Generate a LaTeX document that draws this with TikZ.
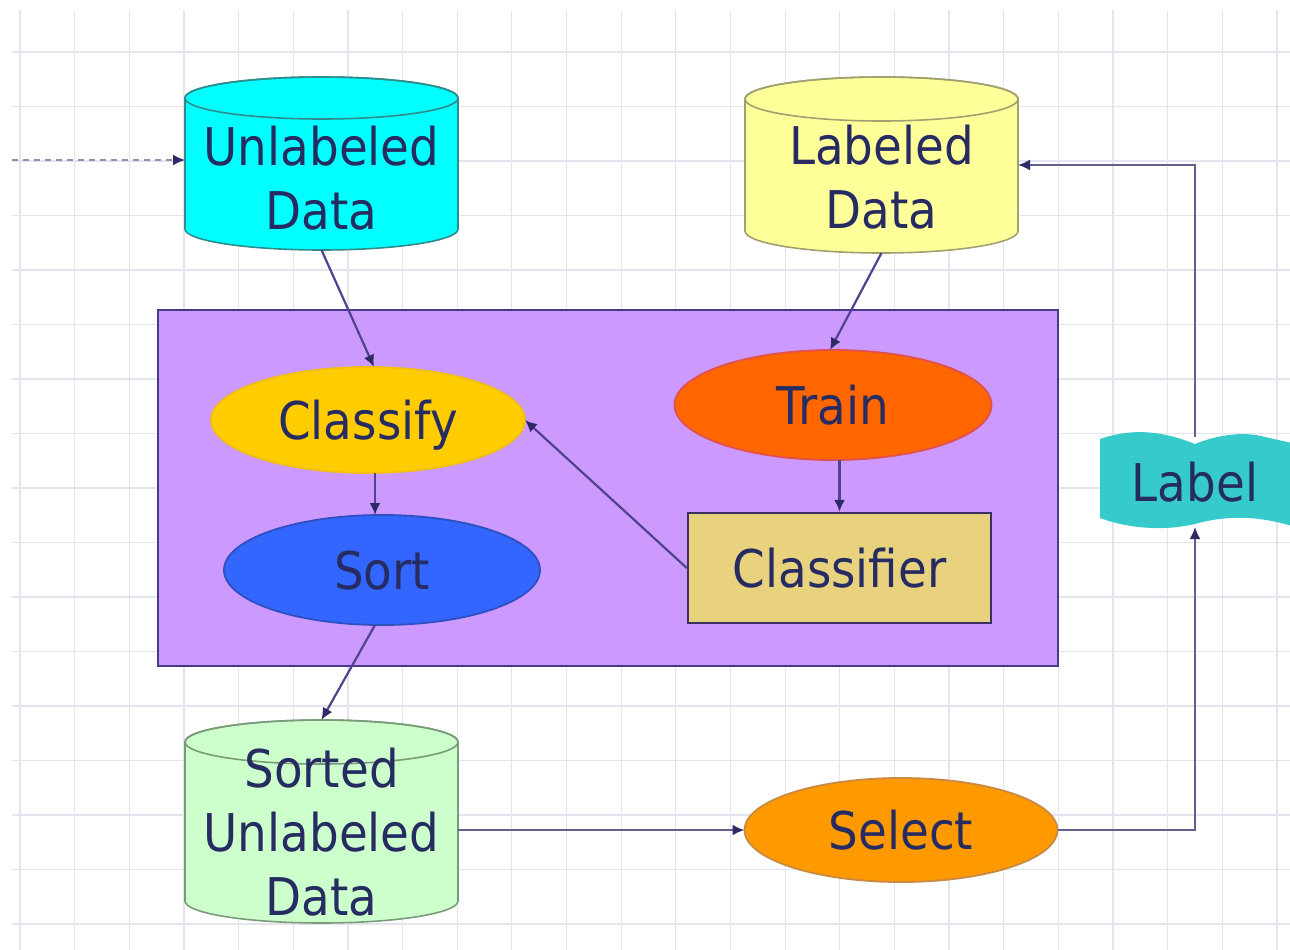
\documentclass[tikz,border=0pt]{standalone}
\usepackage{fontspec}
\setmainfont{DejaVu Sans}[FakeStretch=0.9]
\usetikzlibrary{shapes.geometric,arrows.meta}
\definecolor{gridc}{HTML}{E4E4EF}
\definecolor{linec}{HTML}{4E438C}
\definecolor{loopc}{HTML}{64608E}
\definecolor{tipc}{HTML}{2E2A66}
\definecolor{txtc}{HTML}{262C62}
\definecolor{cyanf}{HTML}{00FFFF}
\definecolor{cyand}{HTML}{2F8C8C}
\definecolor{yelf}{HTML}{FFFF99}
\definecolor{yeld}{HTML}{A0A070}
\definecolor{grnf}{HTML}{CCFFCC}
\definecolor{grnd}{HTML}{7A9A7A}
\definecolor{purf}{HTML}{CC99FF}
\definecolor{purd}{HTML}{483A8A}
\definecolor{clsf}{HTML}{FFCC00}
\definecolor{clsd}{HTML}{F2BE10}
\definecolor{sortf}{HTML}{3366FF}
\definecolor{sortd}{HTML}{2F4FC0}
\definecolor{trnf}{HTML}{FF6600}
\definecolor{trnd}{HTML}{E0504F}
\definecolor{cfrf}{HTML}{E8D27E}
\definecolor{cfrd}{HTML}{3C3060}
\definecolor{self}{HTML}{FF9900}
\definecolor{seld}{HTML}{C88A40}
\definecolor{lblf}{HTML}{36CACA}
\begin{document}
\begin{tikzpicture}[x=1pt,y=-1pt,
  gridline/.style={draw=gridc, line width=1.2pt},
  conn/.style={draw=linec, line width=2.2pt, -{Latex[length=12pt,width=11pt,color=tipc]}},
  loopconn/.style={draw=loopc, line width=2.2pt, -{Latex[length=12pt,width=11pt,color=tipc]}},
  txt/.style={font=\fontsize{52}{64}\selectfont, text=txtc, align=center, inner sep=0pt},
  anch/.style={draw=none, inner sep=0pt, outer sep=0pt},
  ell/.style={ellipse, inner sep=0pt, outer sep=0pt, text height=38pt, text depth=0pt, line width=1.8pt, font=\fontsize{52}{64}\selectfont, text=txtc},
  cylside/.style={line width=1.6pt}
]
% background and bounding box
\useasboundingbox (0,0) rectangle (1290,950);
\fill[white] (0,0) rectangle (1290,950);
% grid
\foreach \i in {0,...,23} \draw[gridline] ({20+54.65*\i},10) -- ({20+54.65*\i},950);
\foreach \j in {0,...,16} \draw[gridline] (12,{52+54.5*\j}) -- (1290,{52+54.5*\j});

% ---- cylinders ----
% Unlabeled Data
\path[fill=cyanf, draw=cyand, cylside] (185,98) -- (185,229) arc[start angle=180, end angle=0, x radius=136.5, y radius=21] -- (458,98) arc[start angle=0, end angle=-180, x radius=136.5, y radius=21] -- cycle;
\draw[cyand, cylside] (321.5,98) ellipse [x radius=136.5, y radius=21];
\node[anch, minimum width=273pt, minimum height=174pt] (ud) at (321.5,163) {};
\node[txt] (udt) at (321.5,178.5) {Unlabeled\\Data};

% Labeled Data
\path[fill=yelf, draw=yeld, cylside] (745,99) -- (745,231) arc[start angle=180, end angle=0, x radius=136.5, y radius=22] -- (1018,99) arc[start angle=0, end angle=-180, x radius=136.5, y radius=22] -- cycle;
\draw[yeld, cylside] (881.5,99) ellipse [x radius=136.5, y radius=22];
\node[anch, minimum width=273pt, minimum height=176pt] (ld) at (881.5,165) {};
\node[txt] (ldt) at (881.5,177) {Labeled\\Data};

% Sorted Unlabeled Data
\path[fill=grnf, draw=grnd, cylside] (185,742) -- (185,901) arc[start angle=180, end angle=0, x radius=136.5, y radius=22] -- (458,742) arc[start angle=0, end angle=-180, x radius=136.5, y radius=22] -- cycle;
\draw[grnd, cylside] (321.5,742) ellipse [x radius=136.5, y radius=22];
\node[anch, minimum width=273pt, minimum height=203pt] (su) at (321.5,821.5) {};
\node[txt] (sut) at (321.5,832.5) {Sorted\\Unlabeled\\Data};

% ---- process box ----
\node[anch, fill=purf, draw=purd, line width=2.6pt, minimum width=900pt, minimum height=356pt] (box) at (608,488) {};

\node[ell, fill=clsf, draw=clsd, minimum width=314pt, minimum height=106pt] (cl) at (368,420) {Classify};
\node[ell, fill=sortf, draw=sortd, minimum width=316pt, minimum height=110pt] (so) at (382,570) {Sort};
\node[ell, fill=trnf, draw=trnd, minimum width=317pt, minimum height=110pt] (tr) at (833,405) {Train};
\node[rectangle, fill=cfrf, draw=cfrd, line width=2.4pt, inner sep=0pt, minimum width=303pt, minimum height=110pt, text height=38pt, text depth=0pt, font=\fontsize{52}{64}\selectfont, text=txtc] (cf) at (839.5,568) {Classifier};

% Select
\node[ell, fill=self, draw=seld, minimum width=313pt, minimum height=104pt] (se) at (901,830) {Select};

% Label (wave shape)
\fill[lblf] (1100,439) .. controls (1135,427) and (1165,432) .. (1195,444)
  .. controls (1212,437) and (1240,430) .. (1265,437) -- (1292,443)
  -- (1292,526) .. controls (1262,517) and (1230,514) .. (1195,524)
  .. controls (1165,531) and (1130,529) .. (1100,518) -- cycle;
\node[anch, minimum width=190pt, minimum height=90pt, text height=38pt, text depth=0pt, font=\fontsize{52}{64}\selectfont, text=txtc] (lb) at (1195,482) {Label};

% ---- connectors ----
\coordinate (in) at (12,160);
\draw[draw=loopc!70, line width=1.8pt, dash pattern=on 6pt off 5pt, -{Latex[length=12pt,width=11pt,color=tipc]}] (in) -- (ud.west |- in);
\draw[conn] (ud.south) -- ([xshift=6pt]cl.north);
\draw[conn] (ld.south) -- ([xshift=-3pt]tr.north);
\draw[conn] ([xshift=7pt]cl.south) -- ([xshift=-7pt]so.north);
\draw[conn] (tr.south -| cf.north) -- (cf.north);
\draw[conn] (cf.west) -- (cl.east);
\draw[conn] ([xshift=-7pt]so.south) -- (su.north);
\draw[loopconn] (su.east |- se.west) -- (se.west);
\draw[loopconn] (se.east) -| (lb.south);
\draw[loopconn] (lb.north) |- (ld.east);
\end{tikzpicture}
\end{document}
